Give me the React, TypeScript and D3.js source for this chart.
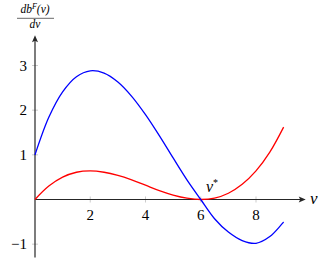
import React from "react";
import * as d3 from "d3";

const vs = [0, 0.5, 1, 1.5, 2, 2.5, 3, 3.5, 4, 4.5, 5, 5.5, 6, 6.5, 7, 7.5, 8, 8.5, 9];
const blueVals = [1.0, 1.84, 2.41, 2.75, 2.88, 2.83, 2.63, 2.31, 1.9, 1.43, 0.93, 0.44, 0.0, -0.43, -0.73, -0.92, -0.98, -0.83, -0.5];
const redVals = [0, 0.3, 0.5, 0.61, 0.64, 0.61, 0.54, 0.44, 0.32, 0.2, 0.1, 0.03, 0, 0.03, 0.14, 0.34, 0.64, 1.06, 1.62];
const xTicks = [2, 4, 6, 8];
const yTicks = [-1, 1, 2, 3];

export default function App() {
  const W = 325, H = 259;
  const x = d3.scaleLinear().domain([0, 8]).range([35, 256]);
  const y = d3.scaleLinear().domain([0, 3]).range([199.5, 65.5]);
  const xEnd = x(9.8);
  const yTop = y(3.68);
  const yBot = y(-1.3);
  const line = d3
    .line<number>()
    .x((_, i) => x(vs[i]))
    .y((d) => y(d))
    .curve(d3.curveCatmullRom.alpha(0.5));
  const font = "Liberation Serif";
  const x0 = x(0), y0 = y(0);
  return (
    <svg width={W} height={H} fontFamily={font} style={{ position: "absolute", left: 0, top: 0 }}>
      <rect width={W} height={H} fill="#fff" />
      {xTicks.map((t) => (
        <line key={"xt" + t} x1={x(t)} x2={x(t)} y1={y0 - 3} y2={y0 + 3} stroke="#aaa" strokeWidth={0.6} />
      ))}
      {yTicks.map((t) => (
        <line key={"yt" + t} x1={x0 - 3} x2={x0 + 3} y1={y(t)} y2={y(t)} stroke="#aaa" strokeWidth={0.6} />
      ))}
      <line x1={x0} x2={xEnd - 4} y1={y0} y2={y0} stroke="#262626" strokeWidth={1.2} />
      <line x1={x0} x2={x0} y1={yBot} y2={yTop + 4} stroke="#262626" strokeWidth={1.2} />
      <path d={`M${xEnd},${y0} L${xEnd - 7},${y0 - 3} L${xEnd - 5.5},${y0} L${xEnd - 7},${y0 + 3} Z`} fill="#262626" />
      <path d={`M${x0},${yTop} L${x0 - 3},${yTop + 7} L${x0},${yTop + 5.5} L${x0 + 3},${yTop + 7} Z`} fill="#262626" />
      <path d={line(redVals) || ""} fill="none" stroke="#ff0000" strokeWidth={1.3} />
      <path d={line(blueVals) || ""} fill="none" stroke="#0000ff" strokeWidth={1.3} />
      {xTicks.map((t) => (
        <text key={"xl" + t} x={x(t)} y={y0 + 20} textAnchor="middle" fontFamily={font} fontSize={15}>
          {t}
        </text>
      ))}
      {yTicks.map((t) => (
        <text key={"yl" + t} x={x0 - 8} y={y(t) + 5} textAnchor="end" fontFamily={font} fontSize={15}>
          {t < 0 ? "\u2212" + Math.abs(t) : t}
        </text>
      ))}
      <text x={310} y={204} fontFamily={font} fontSize={17} fontStyle="italic">v</text>
      <text x={206} y={192} fontFamily={font} fontSize={16} fontStyle="italic">
        v<tspan dy={-6} fontSize={10} fontStyle="normal">*</tspan>
      </text>
      <text x={x0} y={13} textAnchor="middle" fontFamily={font} fontSize={11.5} fontStyle="italic">
        db<tspan dy={-4} fontSize={8}>F</tspan>
        <tspan dy={4}>(v)</tspan>
      </text>
      <line x1={17} x2={54} y1={18.3} y2={18.3} stroke="#000" strokeWidth={0.6} />
      <text x={x0} y={28} textAnchor="middle" fontFamily={font} fontSize={11.5} fontStyle="italic">dv</text>
    </svg>
  );
}
